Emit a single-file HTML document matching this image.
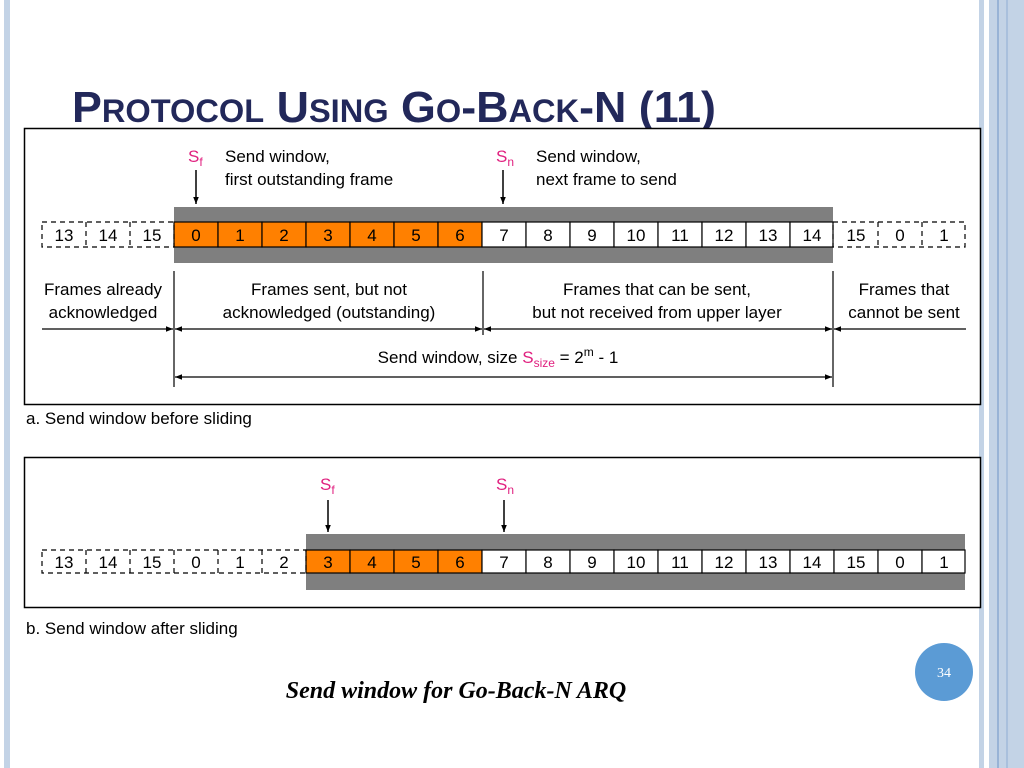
<!DOCTYPE html>
<html><head><meta charset="utf-8"><style>
body{margin:0;width:1024px;height:768px;background:#fff;overflow:hidden}
svg{display:block}
text{font-family:"Liberation Sans",sans-serif}
</style></head><body>
<svg width="1024" height="768" viewBox="0 0 1024 768">
<defs>
<marker id="ar" viewBox="0 0 10 10" refX="10" refY="5" markerWidth="9" markerHeight="7" orient="auto-start-reverse" markerUnits="userSpaceOnUse"><path d="M0,1 L10,5 L0,9 Z" fill="#000"/></marker>
</defs>
<!-- side strips -->
<rect x="4" y="0" width="6" height="768" fill="#c3d3e6"/>
<rect x="979" y="0" width="5" height="768" fill="#c3d3e6"/>
<rect x="989" y="0" width="35" height="768" fill="#c3d3e6"/>
<rect x="997" y="0" width="2" height="768" fill="#98b3d6"/>
<rect x="1006" y="0" width="2" height="768" fill="#a9c0dd"/>
<!-- title -->
<text x="72" y="122" fill="#22285a" font-weight="bold" font-size="44" textLength="644" lengthAdjust="spacingAndGlyphs">P<tspan font-size="32">ROTOCOL</tspan> U<tspan font-size="32">SING</tspan> G<tspan font-size="32">O</tspan>-B<tspan font-size="32">ACK</tspan>-N (11)</text>
<!-- boxes -->
<rect x="24.5" y="128.5" width="956" height="276" fill="#fff" stroke="#000" stroke-width="1.5"/>
<rect x="24.5" y="457.5" width="956" height="150" fill="#fff" stroke="#000" stroke-width="1.5"/>

<g font-size="17" fill="#000">
<!-- top labels -->
<text x="188" y="162" fill="#e0207f">S<tspan font-size="12" dy="4">f</tspan></text>
<text x="225" y="162">Send window,</text>
<text x="225" y="185">first outstanding frame</text>
<text x="496" y="162" fill="#e0207f">S<tspan font-size="12" dy="4">n</tspan></text>
<text x="536" y="162">Send window,</text>
<text x="536" y="185">next frame to send</text>
</g>
<line x1="196" y1="170" x2="196" y2="204" stroke="#000" stroke-width="1.5" marker-end="url(#ar)"/>
<line x1="503" y1="170" x2="503" y2="204" stroke="#000" stroke-width="1.5" marker-end="url(#ar)"/>

<!-- top band -->
<rect x="174" y="207" width="659" height="56" fill="#7f7f7f"/>
<g stroke="#000" stroke-width="1.2" font-size="17" text-anchor="middle">
<g fill="#ff8000">
<rect x="174" y="222" width="44" height="25"/><rect x="218" y="222" width="44" height="25"/><rect x="262" y="222" width="44" height="25"/><rect x="306" y="222" width="44" height="25"/><rect x="350" y="222" width="44" height="25"/><rect x="394" y="222" width="44" height="25"/><rect x="438" y="222" width="44" height="25"/>
</g>
<g fill="#fff">
<rect x="482" y="222" width="44" height="25"/><rect x="526" y="222" width="44" height="25"/><rect x="570" y="222" width="44" height="25"/><rect x="614" y="222" width="44" height="25"/><rect x="658" y="222" width="44" height="25"/><rect x="702" y="222" width="44" height="25"/><rect x="746" y="222" width="44" height="25"/><rect x="790" y="222" width="43" height="25"/>
</g>
<g fill="none" stroke-dasharray="5,4">
<rect x="42" y="222" width="132" height="25"/><line x1="86" y1="222" x2="86" y2="247"/><line x1="130" y1="222" x2="130" y2="247"/>
<rect x="833" y="222" width="132" height="25"/><line x1="878" y1="222" x2="878" y2="247"/><line x1="922" y1="222" x2="922" y2="247"/>
</g>
<g stroke="none" fill="#000">
<text x="64" y="241">13</text><text x="108" y="241">14</text><text x="152" y="241">15</text>
<text x="196" y="241">0</text><text x="240" y="241">1</text><text x="284" y="241">2</text><text x="328" y="241">3</text><text x="372" y="241">4</text><text x="416" y="241">5</text><text x="460" y="241">6</text>
<text x="504" y="241">7</text><text x="548" y="241">8</text><text x="592" y="241">9</text><text x="636" y="241">10</text><text x="680" y="241">11</text><text x="724" y="241">12</text><text x="768" y="241">13</text><text x="812" y="241">14</text>
<text x="856" y="241">15</text><text x="900" y="241">0</text><text x="944" y="241">1</text>
</g>
</g>

<!-- region labels -->
<g font-size="17" text-anchor="middle" fill="#000">
<text x="103" y="295">Frames already</text><text x="103" y="318">acknowledged</text>
<text x="329" y="295">Frames sent, but not</text><text x="329" y="318">acknowledged (outstanding)</text>
<text x="657" y="295">Frames that can be sent,</text><text x="657" y="318">but not received from upper layer</text>
<text x="904" y="295">Frames that</text><text x="904" y="318">cannot be sent</text>
<text x="498" y="363"><tspan>Send window, size </tspan><tspan fill="#e0207f">S<tspan font-size="12" dy="4">size</tspan></tspan><tspan dy="-4"> = 2</tspan><tspan font-size="12" dy="-7">m</tspan><tspan dy="7"> - 1</tspan></text>
</g>
<g stroke="#000" stroke-width="1.2">
<line x1="174" y1="271" x2="174" y2="387"/>
<line x1="483" y1="271" x2="483" y2="335"/>
<line x1="833" y1="271" x2="833" y2="387"/>
<line x1="42" y1="329" x2="173" y2="329" marker-end="url(#ar)"/>
<line x1="175" y1="329" x2="482" y2="329" marker-start="url(#ar)" marker-end="url(#ar)"/>
<line x1="484" y1="329" x2="832" y2="329" marker-start="url(#ar)" marker-end="url(#ar)"/>
<line x1="966" y1="329" x2="834" y2="329" marker-end="url(#ar)"/>
<line x1="175" y1="377" x2="832" y2="377" marker-start="url(#ar)" marker-end="url(#ar)"/>
</g>
<text x="26" y="424" font-size="17">a. Send window before sliding</text>

<!-- bottom -->
<g font-size="17" fill="#e0207f">
<text x="320" y="490">S<tspan font-size="12" dy="4">f</tspan></text>
<text x="496" y="490">S<tspan font-size="12" dy="4">n</tspan></text>
</g>
<line x1="328" y1="500" x2="328" y2="532" stroke="#000" stroke-width="1.5" marker-end="url(#ar)"/>
<line x1="504" y1="500" x2="504" y2="532" stroke="#000" stroke-width="1.5" marker-end="url(#ar)"/>
<rect x="306" y="534" width="659" height="56" fill="#7f7f7f"/>
<g stroke="#000" stroke-width="1.2" font-size="17" text-anchor="middle">
<g fill="#ff8000">
<rect x="306" y="550" width="44" height="23"/><rect x="350" y="550" width="44" height="23"/><rect x="394" y="550" width="44" height="23"/><rect x="438" y="550" width="44" height="23"/>
</g>
<g fill="#fff">
<rect x="482" y="550" width="44" height="23"/><rect x="526" y="550" width="44" height="23"/><rect x="570" y="550" width="44" height="23"/><rect x="614" y="550" width="44" height="23"/><rect x="658" y="550" width="44" height="23"/><rect x="702" y="550" width="44" height="23"/><rect x="746" y="550" width="44" height="23"/><rect x="790" y="550" width="44" height="23"/><rect x="834" y="550" width="44" height="23"/><rect x="878" y="550" width="44" height="23"/><rect x="922" y="550" width="43" height="23"/>
</g>
<g fill="none" stroke-dasharray="5,4">
<rect x="42" y="550" width="264" height="23"/>
<line x1="86" y1="550" x2="86" y2="573"/><line x1="130" y1="550" x2="130" y2="573"/><line x1="174" y1="550" x2="174" y2="573"/><line x1="218" y1="550" x2="218" y2="573"/><line x1="262" y1="550" x2="262" y2="573"/>
</g>
<g stroke="none" fill="#000">
<text x="64" y="568">13</text><text x="108" y="568">14</text><text x="152" y="568">15</text><text x="196" y="568">0</text><text x="240" y="568">1</text><text x="284" y="568">2</text>
<text x="328" y="568">3</text><text x="372" y="568">4</text><text x="416" y="568">5</text><text x="460" y="568">6</text>
<text x="504" y="568">7</text><text x="548" y="568">8</text><text x="592" y="568">9</text><text x="636" y="568">10</text><text x="680" y="568">11</text><text x="724" y="568">12</text><text x="768" y="568">13</text><text x="812" y="568">14</text><text x="856" y="568">15</text><text x="900" y="568">0</text><text x="944" y="568">1</text>
</g>
</g>
<text x="26" y="634" font-size="17">b. Send window after sliding</text>

<!-- footer -->
<text x="456" y="698" font-family="Liberation Serif,serif" font-style="italic" font-weight="bold" font-size="24" text-anchor="middle" style="font-family:'Liberation Serif',serif">Send window for Go-Back-N ARQ</text>
<circle cx="944" cy="672" r="29" fill="#5b9bd5"/>
<text x="944" y="677" font-size="14" fill="#fff" text-anchor="middle" style="font-family:'Liberation Serif',serif">34</text>
</svg>
</body></html>
